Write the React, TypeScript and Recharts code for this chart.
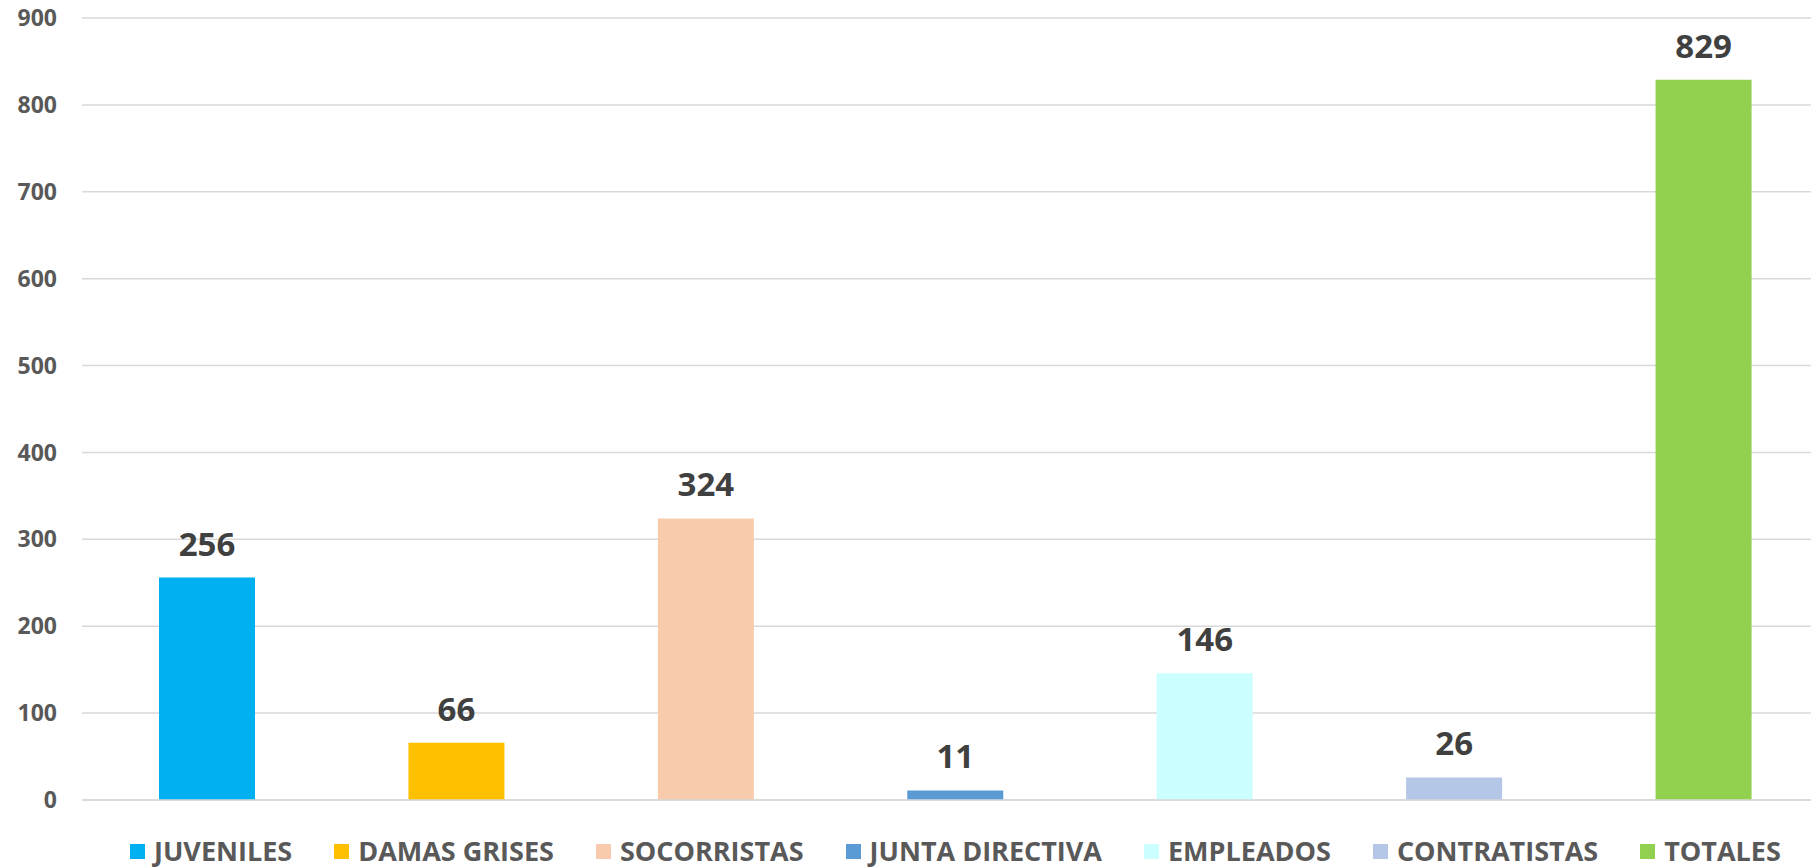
import React from "react";
import { BarChart, Bar, Cell, XAxis, YAxis, CartesianGrid, LabelList } from "recharts";

const categories = [
  "JUVENILES",
  "DAMAS GRISES",
  "SOCORRISTAS",
  "JUNTA DIRECTIVA",
  "EMPLEADOS",
  "CONTRATISTAS",
  "TOTALES",
];
const values = [256, 66, 324, 11, 146, 26, 829];
const colors = ["#00B0F0", "#FFC000", "#F8CBAD", "#5B9BD5", "#CCFFFF", "#B4C7E7", "#92D050"];
const yTicks = [0, 100, 200, 300, 400, 500, 600, 700, 800, 900];

const data = categories.map((name, i) => ({ name, value: values[i] }));

const FONT = "'Open Sans', 'DejaVu Sans', sans-serif";

export default function App() {
  return (
    <div
      style={{
        position: "absolute",
        left: 0,
        top: 0,
        width: 1811,
        height: 868,
        overflow: "hidden",
        background: "#fff",
        fontFamily: FONT,
      }}
    >
      {/* plot area runs a little past the right edge, as in the source image */}
      <BarChart
        width={1828}
        height={868}
        data={data}
        margin={{ top: 18, right: 0, bottom: 58, left: 0 }}
        barSize={96}
      >
        <CartesianGrid vertical={false} stroke="#d9d9d9" strokeWidth={1.5} />
        <XAxis
          dataKey="name"
          tick={false}
          tickLine={false}
          height={10}
          axisLine={{ stroke: "#d9d9d9", strokeWidth: 1.5 }}
        />
        <YAxis
          domain={[0, 900]}
          ticks={yTicks}
          width={82}
          axisLine={false}
          tickLine={false}
          tickSize={0}
          tickMargin={25}
          tick={{ fill: "#595959", fontSize: 23, fontWeight: 700, fontFamily: FONT }}
        />
        <Bar dataKey="value" isAnimationActive={false}>
          {data.map((d, i) => (
            <Cell key={d.name} fill={colors[i]} />
          ))}
          <LabelList
            dataKey="value"
            position="top"
            offset={22}
            fill="#404040"
            fontSize={33}
            fontWeight={700}
            fontFamily={FONT}
          />
        </Bar>
      </BarChart>
      {/* legend */}
      <div
        style={{
          position: "absolute",
          left: 130,
          top: 837,
          height: 28,
          display: "flex",
          alignItems: "center",
          gap: 42,
        }}
      >
        {categories.map((c, i) => (
          <div key={c} style={{ display: "flex", alignItems: "center" }}>
            <span
              style={{
                display: "inline-block",
                width: 15,
                height: 15,
                background: colors[i],
                marginRight: 9,
              }}
            />
            <span
              style={{
                fontSize: 27,
                lineHeight: "28px",
                fontWeight: 700,
                color: "#595959",
                whiteSpace: "nowrap",
              }}
            >
              {c}
            </span>
          </div>
        ))}
      </div>
    </div>
  );
}
